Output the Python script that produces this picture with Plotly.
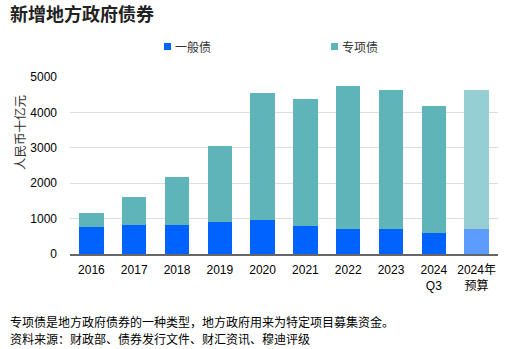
import plotly.graph_objects as go

categories = ["2016", "2017", "2018", "2019", "2020", "2021", "2022", "2023", "2024<br>Q3", "2024年<br>预算"]
general = [766, 818, 818, 907, 951, 787, 718, 699, 600, 720]
special = [404, 796, 1353, 2149, 3602, 3584, 4038, 3927, 3590, 3900]
y_ticks = [0, 1000, 2000, 3000, 4000, 5000]

gen_colors = ["#0062FF"] * 9 + ["#5C9BFF"]
spe_colors = ["#5FB4BA"] * 9 + ["#96CFD3"]

FONT = "Liberation Sans, Arial, Noto Sans CJK SC, sans-serif"

fig = go.Figure()
fig.add_trace(go.Bar(x=categories, y=general, name="一般债",
                     marker=dict(color=gen_colors, line=dict(width=0)), showlegend=False))
fig.add_trace(go.Bar(x=categories, y=special, name="专项债",
                     marker=dict(color=spe_colors, line=dict(width=0)), showlegend=False))

W, H = 506, 349
L, R, T, B = 70, 8, 77, 95

def px(x):
    return (x - L) / (W - L - R)

def py(y):
    return (H - B - y) / (H - T - B)

fig.update_layout(
    width=W, height=H,
    margin=dict(l=L, r=R, t=T, b=B),
    barmode="stack", bargap=0.43,
    plot_bgcolor="white", paper_bgcolor="white",
    font=dict(family=FONT, size=12, color="#000"),
    xaxis=dict(showgrid=False, showline=True, linecolor="#666", linewidth=1.5,
               ticks="", tickfont=dict(size=12, color="#000"), ticklabelstandoff=4),
    yaxis=dict(range=[0, 5000], tickvals=y_ticks, showgrid=True, gridcolor="#DDDDDD",
               gridwidth=1, zeroline=False, tickfont=dict(size=12, color="#000"),
               ticklabelstandoff=12),
    showlegend=False,
)

# title
fig.add_annotation(text="<b>新增地方政府债券</b>", xref="paper", yref="paper",
                   x=px(8), y=py(15), xanchor="left", yanchor="middle", showarrow=False,
                   font=dict(size=18, color="#222", family=FONT))

# legend (manual)
leg_items = [("一般债", "#0062FF", 164), ("专项债", "#5FB4BA", 331)]
for name, col, x0 in leg_items:
    fig.add_shape(type="rect", xref="paper", yref="paper",
                  x0=px(x0), x1=px(x0 + 7), y0=py(43), y1=py(50),
                  fillcolor=col, line=dict(width=0))
    fig.add_annotation(text=name, xref="paper", yref="paper", x=px(x0 + 9), y=py(47),
                       xanchor="left", yanchor="middle", showarrow=False,
                       font=dict(size=12, color="#333", family=FONT))

# y-axis title
fig.add_annotation(text="人民币十亿元", xref="paper", yref="paper", x=px(20), y=py(133),
                   xanchor="center", yanchor="middle", textangle=-90, showarrow=False,
                   font=dict(size=12.5, color="#333", family=FONT))

# footnotes
fig.add_annotation(text="专项债是地方政府债券的一种类型，地方政府用来为特定项目募集资金。",
                   xref="paper", yref="paper", x=px(8), y=py(322), xanchor="left",
                   yanchor="middle", showarrow=False, font=dict(size=12, color="#000", family=FONT))
fig.add_annotation(text="资料来源：财政部、债券发行文件、财汇资讯、穆迪评级",
                   xref="paper", yref="paper", x=px(8), y=py(339), xanchor="left",
                   yanchor="middle", showarrow=False, font=dict(size=12, color="#000", family=FONT))

fig.write_html("out.html")
